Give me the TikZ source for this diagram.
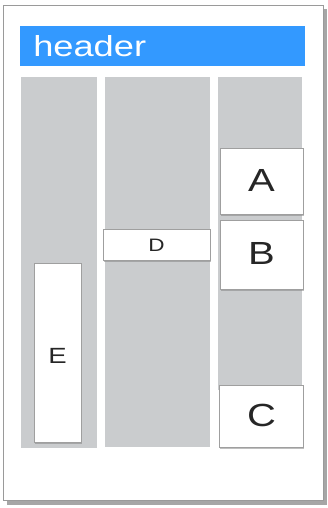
\documentclass[tikz,border=0pt]{standalone}
\usepackage{fontspec}
\setmainfont{Liberation Sans}
\usetikzlibrary{shadows}
\definecolor{hdrblue}{HTML}{3399FF}
\definecolor{colgray}{HTML}{CACCCE}
\definecolor{framegray}{HTML}{9A9A9A}
\tikzset{
  colbox/.style={fill=colgray, draw=none},
  card/.style={fill=white, draw=gray!75, line width=0.9pt, drop shadow={shadow xshift=1.2pt, shadow yshift=-1.5pt, opacity=0.5}},
  lbl/.style={inner sep=0pt, xscale=1.25, text=black!85},
}
\begin{document}
\begin{tikzpicture}[x=1pt,y=-1pt]
\useasboundingbox (0,0) rectangle (327,508);
\fill[white] (0,0) rectangle (327,508);
% outer frame with shadow
\fill[gray!70] (7,9) rectangle (327,505);
\path[fill=white, draw=framegray, line width=0.8pt] (3,5) rectangle (323,500);
% header
\fill[hdrblue] (20,26) rectangle (305,66);
\node[lbl, anchor=west, text=white, font=\fontsize{29}{29}\selectfont] (hdr) at (33,46) {header};
% columns
\fill[colgray] (21,77) rectangle (97,448);
\fill[colgray] (105,77) rectangle (210,447);
\fill[colgray] (218,77) rectangle (302,390);
% cards
\path[card] (220,148) rectangle (303,214);
\node[lbl, font=\fontsize{32}{32}\selectfont] (A) at (261.5,180) {A};
\path[card] (220,220) rectangle (303,289);
\node[lbl, font=\fontsize{32}{32}\selectfont] (B) at (261.5,253) {B};
\path[card] (219,385) rectangle (303,447);
\node[lbl, font=\fontsize{32}{32}\selectfont] (C) at (261.5,415) {C};
\path[card] (103,229) rectangle (210,260);
\node[lbl, font=\fontsize{18}{18}\selectfont] (D) at (156.5,245) {D};
\path[card] (34,263) rectangle (81,442);
\node[lbl, font=\fontsize{22}{22}\selectfont] (E) at (57.5,356) {E};
\end{tikzpicture}
\end{document}
